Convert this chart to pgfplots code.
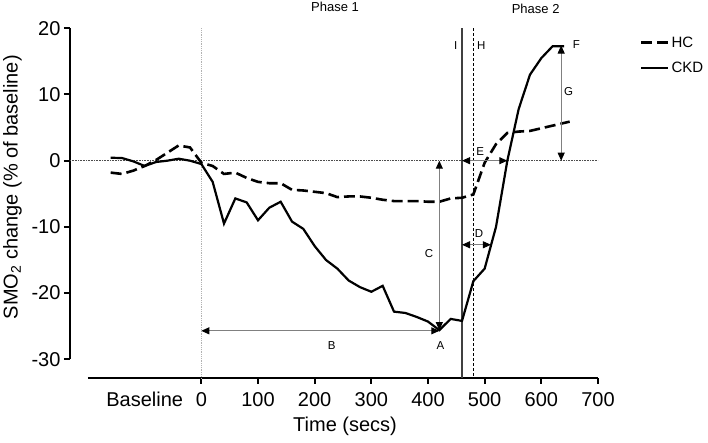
\documentclass[border=0pt]{standalone}
\usepackage{fontspec}
\setmainfont{Liberation Sans}
\usepackage{pgfplots}
\pgfplotsset{compat=1.18}
\usetikzlibrary{arrows.meta}
\begin{document}
\begin{tikzpicture}
\tikzset{arr/.style={draw=gray, line width=0.9pt, {Triangle[length=8pt,width=7pt,color=black]}-{Triangle[length=8pt,width=7pt,color=black]}},
 ann/.style={font=\fontsize{11.5}{13}\selectfont}}
\begin{axis}[
 scale only axis, width=510pt, height=331pt,
 xmin=-200, xmax=700, ymin=-30, ymax=20,
 axis lines=left, axis line style={line width=2.8pt, -},
 axis x line shift=18.7pt, axis y line shift=18pt,
 xtick={0,100,...,700}, xticklabels={0,100,200,300,400,500,600,700},
 ytick={-30,-20,...,20}, yticklabels={-30,-20,-10,0,10,20},
 extra x ticks={-100}, extra x tick labels={Baseline},
 extra x tick style={major tick length=0pt, tick label style={yshift=-5pt}},
 tick style={line width=2pt, black}, major tick length=6pt, tick align=outside,
 tick label style={font=\fontsize{20}{23}\selectfont},
 x tick label style={yshift=-5pt},
 xlabel={Time (secs)}, ylabel={SMO\textsubscript{2} change (\% of baseline)},
 label style={font=\fontsize{20}{23}\selectfont},
 xlabel style={at={([yshift=-67.5pt]rel axis cs:0.504,0)}, anchor=center},
 ylabel style={at={([xshift=-75.5pt]rel axis cs:0,0.52)}, anchor=center},
 clip=false,
 legend style={draw=none, fill=none, at={(axis description cs:1.082,0.918)}, anchor=west,
   font=\fontsize{15}{18}\selectfont, inner sep=0pt, row sep=9.5pt, cells={anchor=west}},
 legend image code/.code={\path (0pt,0pt) -- (27pt,0pt); \draw[#1] (0pt,0pt) -- (20pt,0pt);},
]
% reference lines
\draw[densely dotted, gray!60, line width=0.8pt] (axis cs:0,20) -- ([yshift=-18.7pt]axis cs:0,-30);
\draw[densely dotted, black!70, line width=0.6pt] ([xshift=-18pt]axis cs:-200,0) -- (axis cs:700,0);
\draw[black!75, line width=1.1pt] (axis cs:460,20) -- ([yshift=-18.7pt]axis cs:460,-30);
\draw[black, line width=1pt, dash pattern=on 3pt off 2pt] (axis cs:480,20) -- ([yshift=-18.7pt]axis cs:480,-30);

\addplot[black, line width=2.6pt, dash pattern=on 11pt off 5pt] coordinates {
(-160,-1.8) (-140,-2.0) (-120,-1.5) (-100,-0.8) (-80,0.1) (-60,1.2) (-40,2.3) (-20,2.0)
(0,-0.3) (20,-0.8) (40,-2.0) (60,-1.8) (80,-2.6) (100,-3.2) (120,-3.4) (140,-3.4)
(160,-4.4) (180,-4.5) (200,-4.7) (220,-4.9) (240,-5.5) (260,-5.4) (280,-5.4) (300,-5.6)
(320,-5.9) (340,-6.1) (360,-6.1) (380,-6.1) (400,-6.2) (420,-6.2) (440,-5.7) (460,-5.6)
(480,-5.1) (500,-0.3) (520,2.5) (540,4.2) (560,4.4) (580,4.5) (600,4.9) (620,5.3) (650,5.9)
};
\addlegendentry{HC}
\addplot[black, line width=2.2pt] coordinates {
(-160,0.45) (-140,0.4) (-120,-0.1) (-100,-0.8) (-80,-0.2) (-60,0.0) (-40,0.3) (-20,0.0)
(0,-0.5) (20,-3.2) (40,-9.5) (60,-5.7) (80,-6.3) (100,-9.0) (120,-7.1) (140,-6.2)
(160,-9.2) (180,-10.3) (200,-12.9) (220,-15.0) (240,-16.3) (260,-18.1) (280,-19.1) (300,-19.8)
(320,-18.9) (340,-22.8) (360,-23.0) (380,-23.6) (400,-24.3) (420,-25.6) (440,-23.9) (460,-24.2)
(480,-18.2) (500,-16.3) (520,-10.0) (540,0.0) (560,7.8) (580,13.0) (600,15.5) (620,17.3) (640,17.3)
};
\addlegendentry{CKD}

% annotations
\draw[arr] (axis cs:0,-25.7) -- (axis cs:420,-25.7);
\draw[arr] (axis cs:420,0) -- (axis cs:420,-25.6);
\draw[arr] (axis cs:460,-12.7) -- (axis cs:511,-12.7);
\draw[arr] (axis cs:460,0) -- (axis cs:540,0);
\draw[arr] (axis cs:635,17.4) -- (axis cs:635,0);
\node[ann] at (axis cs:230,-27.9) {B};
\node[ann] at (axis cs:422,-27.9) {A};
\node[ann] at (axis cs:402,-14) {C};
\node[ann] at (axis cs:490,-11) {D};
\node[ann] at (axis cs:492,1.4) {E};
\node[ann] at (axis cs:662,17.5) {F};
\node[ann] at (axis cs:648,10.4) {G};
\node[ann] at (axis cs:494,17.4) {H};
\node[ann] at (axis cs:449,17.4) {I};
\node[font=\fontsize{13}{15}\selectfont] at (axis cs:236,23.2) {Phase 1};
\node[font=\fontsize{13}{15}\selectfont] at (axis cs:590,22.9) {Phase 2};
\coordinate (ll) at (rel axis cs:0,0);
\coordinate (ur) at (rel axis cs:1,1);
\end{axis}
\pgfresetboundingbox
\path ([xshift=-88pt,yshift=-83.7pt]ll) rectangle ([xshift=110pt,yshift=28.3pt]ur);
\end{tikzpicture}
\end{document}
